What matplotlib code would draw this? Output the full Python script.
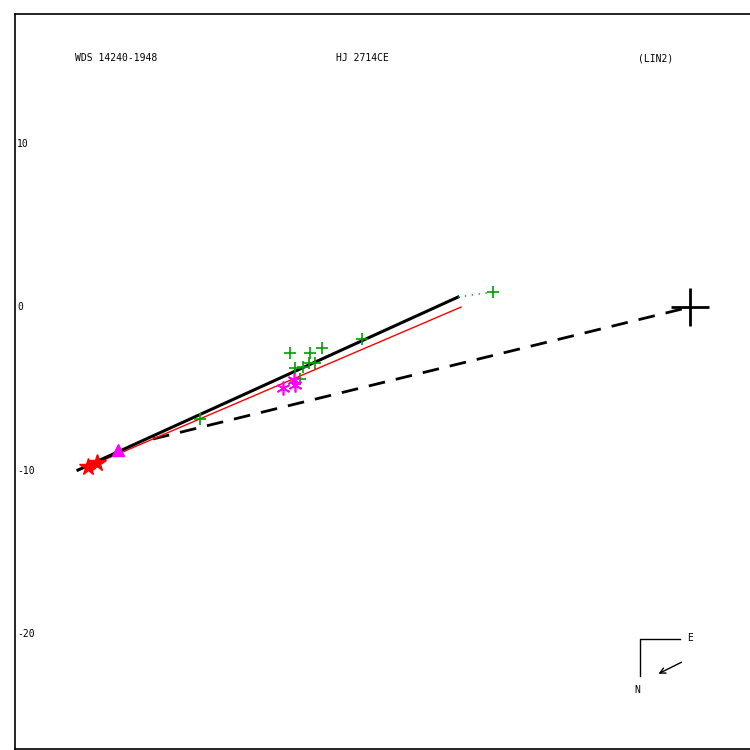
import matplotlib
matplotlib.use('Agg')
import matplotlib.pyplot as plt
import numpy as np

# Заголовки
title_left = 'WDS 14240-1948'
title_mid = 'HJ 2714CE'
title_right = '(LIN2)'

# Орбита (линейное решение) и прочие линии
fit_x = [-37.43, -14.19]
fit_y = [-9.97, 0.61]
red_x = [-37.0, -14.0]
red_y = [-9.85, 0.0]
dash_x = [-32.84, 0.0]
dash_y = [-8.07, 0.0]
dot_x = [-14.19, -12.05]
dot_y = [0.61, 0.92]

# Наблюдения (микрометр)
obs_x = [-12.05, -20.06, -24.46, -23.24, -22.51, -23.67, -23.30, -22.94, -24.16, -23.85, -29.97]
obs_y = [0.92, -1.96, -2.81, -2.81, -2.51, -3.67, -3.43, -3.43, -3.73, -4.40, -6.85]
# Интерферометрия
ast_x = [-24.89, -24.16, -24.22]
ast_y = [-4.95, -4.77, -4.46]
# Прочие
tri_x = [-34.98]
tri_y = [-8.75]
star_x = [-36.82, -36.27]
star_y = [-9.79, -9.54]

yticks = [10, 0, -10, -20]

fig = plt.figure(figsize=(7.5, 7.5), dpi=100)
ax = fig.add_axes([0.02, 0.0013, 0.98, 0.98])
ax.set_xlim(-41.28, 3.67)
ax.set_ylim(-27.03, 17.92)
ax.set_xticks([])
ax.set_yticks([])
ax.spines['right'].set_visible(False)
for s in ['left', 'top', 'bottom']:
    ax.spines[s].set_linewidth(1.2)

mono = 'DejaVu Sans Mono'
for v in yticks:
    ax.text(0.003, v, str(v), transform=ax.get_yaxis_transform(),
            ha='left', va='center', fontsize=7, family=mono)

ax.text(0.082, 0.94, title_left, transform=ax.transAxes, fontsize=7, family=mono, va='center')
ax.text(0.437, 0.94, title_mid, transform=ax.transAxes, fontsize=7, family=mono, va='center')
ax.text(0.848, 0.94, title_right, transform=ax.transAxes, fontsize=7, family=mono, va='center')

ax.plot(dash_x, dash_y, color='black', lw=2, linestyle=(0, (6, 4)))
ax.plot(red_x, red_y, color='red', lw=1)
ax.plot(fit_x, fit_y, color='black', lw=2.2)
ax.plot(dot_x, dot_y, color='#00a000', lw=1, linestyle=(0, (1, 4)))

ax.plot(obs_x, obs_y, linestyle='none', marker='+', ms=9, mew=1.2, color='#00a000')
ax.plot(ast_x, ast_y, linestyle='none', marker=(6, 2, 0), ms=10, mew=1.2, color='magenta')
ax.plot(tri_x, tri_y, linestyle='none', marker='^', ms=8, color='magenta')
ax.plot(star_x, star_y, linestyle='none', marker='*', ms=13, color='red')

# главная звезда
ax.plot([0], [0], marker='+', ms=27, mew=2, color='black')

# компас
ax.plot([0.850, 0.850, 0.905], [0.0993, 0.1497, 0.1497], color='black',
        lw=1, transform=ax.transAxes)
ax.text(0.914, 0.151, 'E', transform=ax.transAxes, fontsize=7, family=mono, va='center')
ax.text(0.843, 0.080, 'N', transform=ax.transAxes, fontsize=7, family=mono, va='center')
ax.annotate('', xy=(0.872, 0.1007), xytext=(0.910, 0.1197), xycoords='axes fraction',
            arrowprops=dict(arrowstyle='->', lw=1, color='black'))

fig.savefig('out.png', dpi=100)
